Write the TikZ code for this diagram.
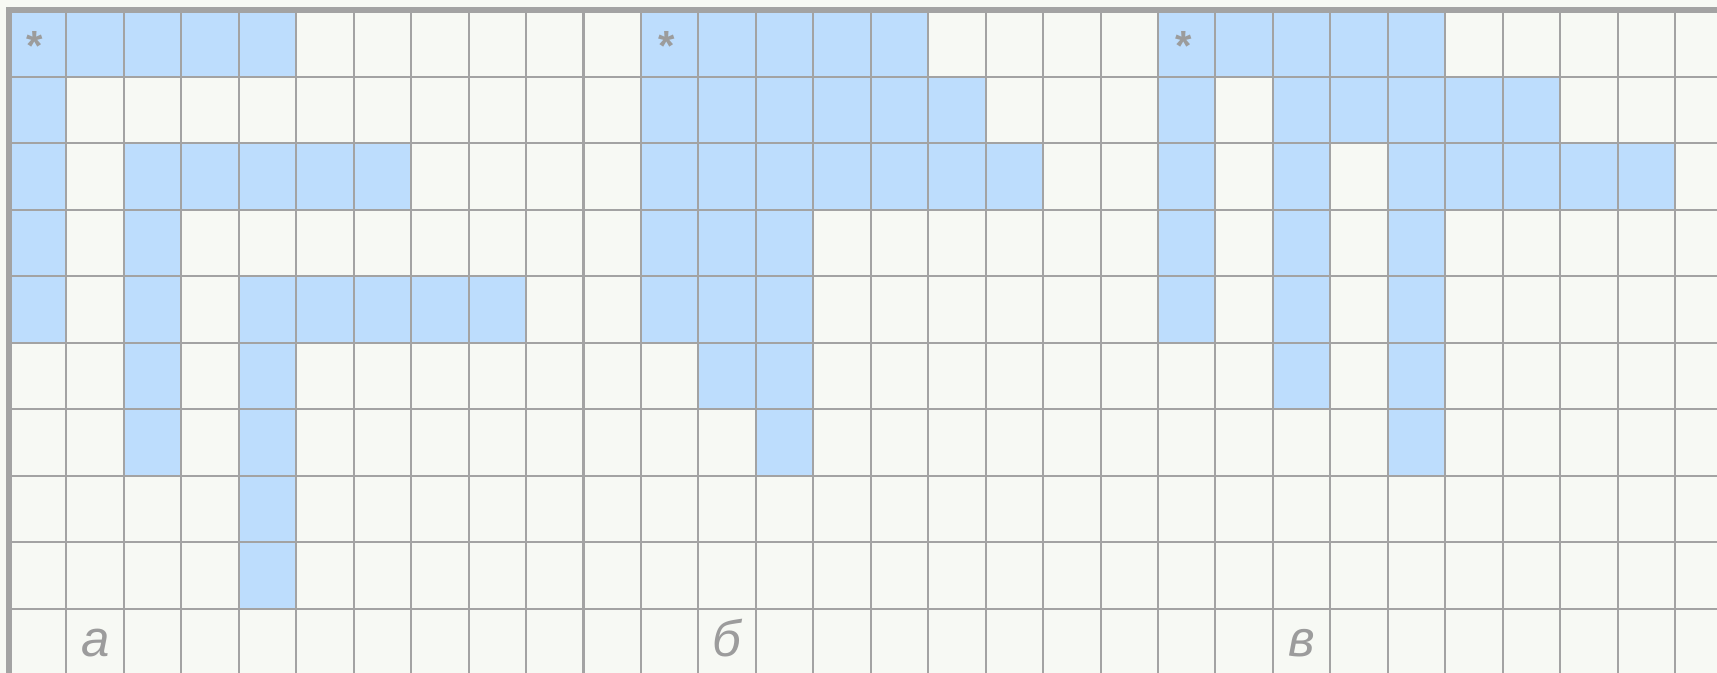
\documentclass[tikz,border=0pt]{standalone}
\usepackage{fontspec}
\setmainfont{Liberation Sans}
\usepackage{xcolor}
\usetikzlibrary{positioning}
\definecolor{paper}{HTML}{F7F9F4}
\definecolor{cellblue}{HTML}{BDDDFD}
\definecolor{linegray}{HTML}{A3A3A3}
\definecolor{textgray}{HTML}{9C9C9C}

\begin{document}
\begin{tikzpicture}[
  cell/.style={fill=cellblue},
  gridline/.style={draw=linegray,line width=1.15pt},
  frame/.style={draw=linegray,line width=3.4pt,line join=miter},
  startmark/.style={anchor=base,inner sep=0pt,text=textgray,
                    font=\fontsize{24}{24}\selectfont\bfseries},
  figlabel/.style={anchor=base,inner sep=0pt,text=textgray,
                   font=\fontsize{29}{29}\selectfont\itshape}
]
  \useasboundingbox (0,0) rectangle (34.34,-13.46);
  \clip (0,0) rectangle (34.34,-13.46);
  \fill[paper] (0,0) rectangle (34.34,-13.46);

  \begin{scope}[shift={(0.18,-0.20)},xscale=1.149,yscale=-1.331]
    % filled cells, row/first/last
    \foreach \r/\a/\b in {0/0/4,1/0/0,2/0/0,2/2/6,3/0/0,3/2/2,4/0/0,4/2/2,4/4/8,
                          5/2/2,5/4/4,6/2/2,6/4/4,7/4/4,8/4/4,
                          0/11/15,1/11/16,2/11/17,3/11/13,4/11/13,5/12/13,6/13/13,
                          0/20/24,1/20/20,1/22/26,2/20/20,2/22/22,2/24/28,3/20/20,
                          3/22/22,3/24/24,4/20/20,4/22/22,4/24/24,5/22/22,5/24/24,6/24/24}
      \fill[cell] (\a,\r) rectangle (\b+1,\r+1);

    \foreach \c in {1,...,30}
      \draw[gridline] (\c,0) -- (\c,10.5);
    \foreach \r in {1,...,10}
      \draw[gridline] (0,\r) -- (30.5,\r);
    \draw[frame] (0,10.5) -- (0,0) -- (30.5,0);

    \node[startmark] (starta) at (0.45,0.756) {*};
    \node[startmark] (startb) at (11.45,0.756) {*};
    \node[startmark] (startc) at (20.45,0.756) {*};

    \node[figlabel] (labela) at (1.5,9.72) {а};
    \node[figlabel] (labelb) at (12.5,9.72) {б};
    \node[figlabel] (labelc) at (22.5,9.72) {в};
  \end{scope}
\end{tikzpicture}
\end{document}
